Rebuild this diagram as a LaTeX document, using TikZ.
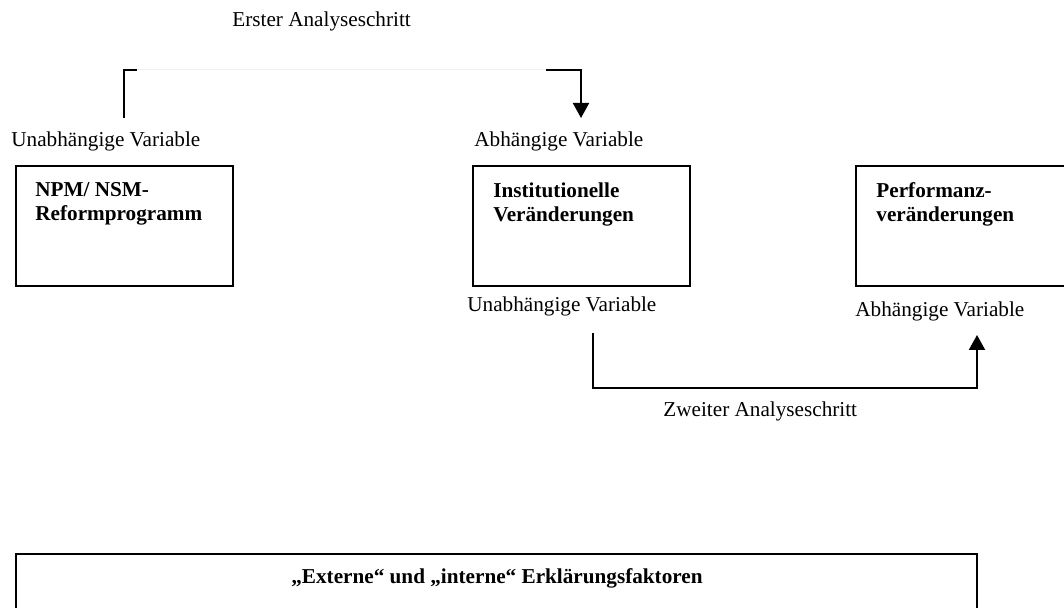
\documentclass[tikz,border=0pt]{standalone}
\usepackage{fontspec}
\setmainfont{Liberation Serif}
\usetikzlibrary{arrows.meta,positioning}

\tikzset{
  vartext/.style={inner sep=0pt, anchor=base west, font=\fontsize{10.6}{12}\selectfont},
  boxtext/.style={inner sep=0pt, align=left, font=\fontsize{10.6}{12}\selectfont\bfseries},
  box/.style={draw, line width=1pt, inner sep=0pt, minimum width=108.5pt, minimum height=60pt},
  conn/.style={line width=1pt},
  tip/.style={-{Triangle[width=8pt,length=7.5pt]}}
}

\begin{document}
\begin{tikzpicture}[x=0.5pt,y=-0.5pt]
\useasboundingbox (0,0) rectangle (1064,608);
\clip (0,0) rectangle (1064,608);

%% Teil 1
   \node[vartext] (schritt1) at (232,27) {Erster Analyseschritt};
   \node[vartext] (uv1) at (11,147) {Unabhängige Variable};
   \node[vartext] (av1) at (474,147) {Abhängige Variable};

   %Kasten NPM
   \node[box] (npm) at (124.5,226) {};
   \node[boxtext, below right=8.5pt and 10pt of npm.north west] (npmtext) {NPM/ NSM-\\Reformprogramm};

   %Kasten Institutionen
   \node[box] (inst) at (581.5,226) {};
   \node[boxtext, below right=8.5pt and 10.5pt of inst.north west] (insttext) {Institutionelle\\Veränderungen};

   %Kasten Performanz
   \node[box] (perf) at (964.5,226) {};
   \node[boxtext, below right=8.5pt and 10.5pt of perf.north west] (perftext) {Performanz-\\veränderungen};

   %erster Pfeil
   \coordinate (s1) at (124,118);
   \coordinate (k1) at (137,70);
   \coordinate (k2) at (546,70);
   \coordinate (e1) at (581,118);
   \draw[conn] (s1) |- (k1);
   \draw[gray!12, line width=0.5pt] (k1) -- (k2);
   \draw[conn, tip] (k2) -| (e1);

%% Teil 2
   \node[vartext] (uv2) at (467,312) {Unabhängige Variable};
   \node[vartext] (av2) at (855,317) {Abhängige Variable};

   %zweiter Pfeil
   \coordinate (s2) at (593,333);
   \coordinate (k3) at (593,388);
   \coordinate (e2) at (977,335);
   \draw[conn, tip] (s2) -- (k3) -| (e2);
   \node[vartext] (schritt2) at (663,417) {Zweiter Analyseschritt};

%% Teil 3
   \node[box, minimum width=480.5pt, minimum height=53pt] (faktoren) at (496.5,607) {};
   \node[boxtext, anchor=base] (faktorentext) at (497,583) {„Externe“ und „interne“ Erklärungsfaktoren};

\end{tikzpicture}
\end{document}
